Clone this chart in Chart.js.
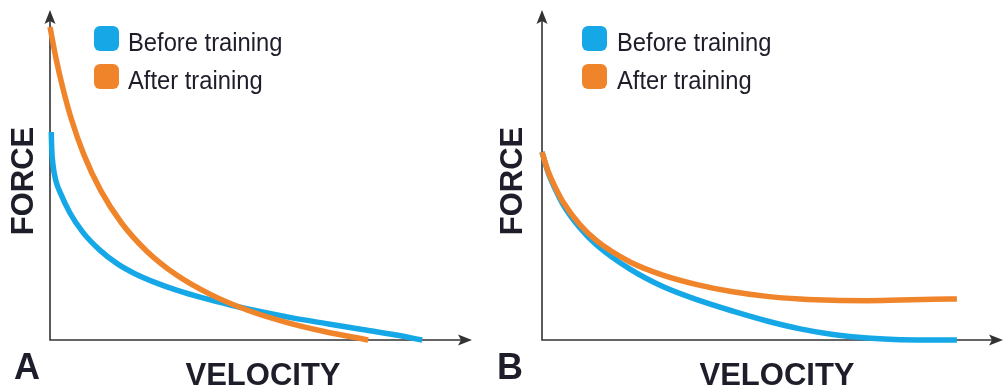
<!DOCTYPE html>
<html>
<head>
<meta charset="utf-8">
<script src="https://cdn.jsdelivr.net/npm/chart.js@4"></script>
<style>
  body { margin: 0; background: #fff; width: 1006px; height: 389px; overflow: hidden; }
  canvas { position: absolute; top: 0; }
  #panelA { left: 0; }
  #panelB { left: 490px; }
</style>
</head>
<body>
<canvas id="panelA" width="490" height="389"></canvas>
<canvas id="panelB" width="516" height="389"></canvas>
<script>
// values, axes run 0..100 (arbitrary units)
const seriesNames = ["Before training", "After training"];
const axisTitles = ["VELOCITY", "FORCE"];

// panel A
const velA_before = [0.3, 0.4, 0.7, 1.4, 2.4, 4.7, 7.8, 11.8, 16, 20, 25, 30, 36, 43, 50, 58, 66, 74, 82, 88.2];
const forceA_before = [63.4, 58.5, 53.5, 48.5, 45.0, 38.8, 32.8, 27.4, 23.2, 20.3, 17.5, 15.2, 12.9, 10.6, 8.6, 6.6, 4.9, 3.2, 1.5, 0];
const velA_after = [0, 1.5, 3, 5, 8, 12, 17, 23, 30, 38, 47, 56, 65, 75.4];
const forceA_after = [95.4, 85.4, 77.0, 67.6, 56.6, 45.6, 35.6, 27.0, 19.8, 13.9, 9.0, 5.4, 2.6, 0];

// panel B
const velB_before = [0, 1.3, 3.0, 4.6, 8.2, 11.9, 19.1, 26.2, 33.6, 41.4, 48.8, 56.0, 63.1, 70.5, 77.7, 90.0];
const forceB_before = [57.3, 51.2, 45.6, 41.2, 34.2, 28.9, 21.6, 16.3, 12.3, 8.8, 5.8, 3.4, 1.7, 0.6, 0.1, 0];
const velB_after = [0, 1.3, 3.0, 4.6, 8.2, 11.9, 19.1, 26.2, 33.6, 41.4, 48.8, 56.0, 63.1, 70.5, 77.7, 84.8, 90.0];
const forceB_after = [57.3, 51.5, 46.2, 42.0, 35.2, 30.2, 23.8, 19.8, 16.9, 14.7, 13.3, 12.5, 12.1, 12.0, 12.2, 12.4, 12.5];

const BLUE = "#16a8e6";
const ORANGE = "#f0842a";
const INK = "#1e1e2a";

const zip = (xs, ys) => xs.map((x, i) => ({ x: x, y: ys[i] }));

function roundedBox(ctx, x, y, w, h, r) {
    ctx.beginPath();
    ctx.moveTo(x + r, y);
    ctx.arcTo(x + w, y, x + w, y + h, r);
    ctx.arcTo(x + w, y + h, x, y + h, r);
    ctx.arcTo(x, y + h, x, y, r);
    ctx.arcTo(x, y, x + w, y, r);
    ctx.closePath();
    ctx.fill();
}

/* ------------------------------
   AXES, LEGEND, LABELS
------------------------------- */
const panelDecor = {
    id: "panelDecor",
    beforeDatasetsDraw(chart, args, opts) {
        const { ctx, chartArea: a } = chart;
        ctx.save();
        ctx.strokeStyle = "#333";
        ctx.fillStyle = "#333";
        ctx.lineWidth = 1.6;
        ctx.beginPath();
        ctx.moveTo(a.left, a.top + 6);
        ctx.lineTo(a.left, a.bottom);
        ctx.lineTo(a.right - 6, a.bottom);
        ctx.stroke();
        // arrow heads
        ctx.beginPath();
        ctx.moveTo(a.left, a.top - 2);
        ctx.lineTo(a.left - 5.5, a.top + 12);
        ctx.lineTo(a.left, a.top + 9);
        ctx.lineTo(a.left + 5.5, a.top + 12);
        ctx.closePath();
        ctx.fill();
        ctx.beginPath();
        ctx.moveTo(a.right, a.bottom);
        ctx.lineTo(a.right - 14, a.bottom - 5.5);
        ctx.lineTo(a.right - 11, a.bottom);
        ctx.lineTo(a.right - 14, a.bottom + 5.5);
        ctx.closePath();
        ctx.fill();
        ctx.restore();
    },
    afterDraw(chart, args, opts) {
        const { ctx, chartArea: a } = chart;
        ctx.save();
        // legend
        const colors = [BLUE, ORANGE];
        seriesNames.forEach((name, i) => {
            const top = 26 + i * 38;
            ctx.fillStyle = colors[i];
            roundedBox(ctx, a.left + opts.boxX, top, 25, 25, 6);
            ctx.save();
            ctx.translate(a.left + opts.textX, top + 25);
            ctx.scale(0.95, 1);
            ctx.fillStyle = INK;
            ctx.font = "25px 'Liberation Sans', Arial, sans-serif";
            ctx.textAlign = "left";
            ctx.textBaseline = "alphabetic";
            ctx.fillText(name, 0, 0);
            ctx.restore();
        });
        // axis titles
        ctx.fillStyle = INK;
        ctx.font = "bold 31px 'Liberation Sans', Arial, sans-serif";
        ctx.textAlign = "center";
        ctx.fillText(axisTitles[0], opts.velX, 385);
        ctx.save();
        ctx.translate(opts.forceX, 181);
        ctx.rotate(-Math.PI / 2);
        ctx.textBaseline = "middle";
        ctx.fillText(axisTitles[1], 0, 0);
        ctx.restore();
        // panel letter
        ctx.textAlign = "left";
        ctx.font = "bold 36px 'Liberation Sans', Arial, sans-serif";
        ctx.fillText(opts.letter, opts.letterX, 379);
        ctx.restore();
    }
};

function makePanel(canvas, before, after, pad, decor) {
    return new Chart(canvas, {
        type: "scatter",
        data: {
            datasets: [{
                label: seriesNames[0],
                data: before,
                borderColor: BLUE,
                borderWidth: 5.5,
                order: 2
            }, {
                label: seriesNames[1],
                data: after,
                borderColor: ORANGE,
                borderWidth: 5.5,
                order: 1
            }]
        },
        options: {
            responsive: false,
            animation: false,
            layout: { padding: pad },
            elements: {
                point: { radius: 0 },
                line: { cubicInterpolationMode: "monotone", fill: false }
            },
            datasets: { scatter: { showLine: true, clip: false } },
            scales: {
                x: { type: "linear", min: 0, max: 100, display: false },
                y: { type: "linear", min: 0, max: 100, display: false }
            },
            plugins: {
                legend: { display: false },
                tooltip: { enabled: false },
                panelDecor: decor
            }
        },
        plugins: [panelDecor]
    });
}

makePanel(document.getElementById("panelA"),
    zip(velA_before, forceA_before), zip(velA_after, forceA_after),
    { left: 50, right: 18, top: 12, bottom: 49 },
    { letter: "A", letterX: 14, boxX: 44, textX: 78, velX: 263, forceX: 24 });

makePanel(document.getElementById("panelB"),
    zip(velB_before, forceB_before), zip(velB_after, forceB_after),
    { left: 52, right: 3, top: 12, bottom: 49 },
    { letter: "B", letterX: 7, boxX: 40, textX: 75, velX: 287, forceX: 23 });
</script>
</body>
</html>
